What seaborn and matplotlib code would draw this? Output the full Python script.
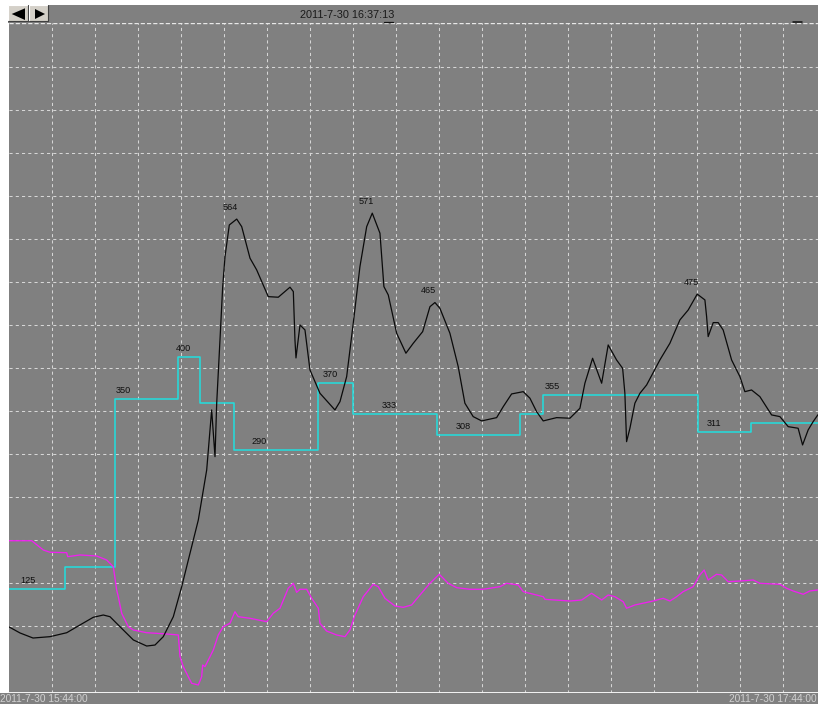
import matplotlib
matplotlib.use("Agg")
import matplotlib.pyplot as plt
from matplotlib.patches import Rectangle, Polygon
from matplotlib.lines import Line2D
import pandas as pd
import seaborn as sns

# ---- data (time in minutes after 15:44:00) ----
black_t = [0, 1.66, 3.57, 6.06, 8.52, 10.47, 12.42, 13.89, 14.87, 16.34,
           18.30, 20.26, 21.48, 22.70, 24.17, 25.40, 26.62, 27.84, 29.07, 29.80,
           30.29, 30.54, 31.02, 31.42, 31.76, 32.39, 33.48, 34.21, 35.43, 36.41,
           38.11, 39.58, 41.30, 41.79, 42.03, 42.18, 42.77, 43.50, 44.23, 45.70,
           47.90, 48.64, 49.62, 50.59, 51.57, 52.56, 53.38, 54.51, 55.09, 55.73,
           56.96, 58.32, 59.40, 60.78, 61.85, 62.58, 63.31, 64.78, 66.00, 66.98,
           68.20, 69.44, 71.64, 72.61, 73.84, 75.55, 76.53, 77.51, 78.48, 80.45,
           82.40, 83.87, 84.60, 85.73, 87.06, 88.02, 89.25, 90.14, 90.47, 90.72,
           91.21, 91.94, 92.68, 93.66, 95.61, 97.08, 98.55, 99.77, 101.09, 102.22,
           102.47, 102.70, 103.44, 104.17, 104.90, 106.14, 107.36, 108.09, 109.07, 110.29,
           112.01, 113.23, 114.45, 115.91, 116.56, 117.38, 118.11, 118.80, 120.0]
black_v = [80.5, 73.1, 67.1, 68.7, 73.4, 82.6, 91.7, 94.4, 92.4, 80.5,
           64.8, 57.6, 58.8, 68.7, 92.4, 128.0, 167.6, 207.1, 266.4, 337.6,
           282.2, 345.6, 420.6, 483.9, 519.5, 557.0, 564, 555.0, 517.6, 503.7,
           472.0, 471.3, 483.2, 478.0, 420.6, 399.3, 438.4, 432.5, 385.1, 357.4,
           337.6, 347.5, 377.1, 440.5, 507.6, 555.0, 571, 547.2, 483.9, 474.0,
           428.6, 404.9, 416.7, 430.5, 460.1, 465, 458.2, 428.6, 389.0, 345.6,
           329.7, 324.6, 328.5, 341.5, 356.6, 359.3, 351.5, 335.6, 324.6, 328.5,
           327.8, 339.6, 369.3, 398.9, 369.3, 414.7, 396.9, 387.0, 357.4, 300.0,
           315.9, 345.6, 357.4, 367.2, 396.9, 416.7, 444.4, 456.2, 475, 468.1,
           448.3, 424.6, 441.2, 441.2, 432.5, 396.9, 377.1, 359.3, 361.3, 353.4,
           331.7, 329.7, 317.8, 315.9, 296.1, 313.9, 323.7, 331.7, 338.0]

magenta_t = [0, 3.38, 5.08, 6.06, 8.52, 8.66, 10.47, 12.92, 14.39, 15.36,
             15.61, 15.85, 16.09, 16.59, 17.56, 18.30, 20.26, 23.19, 24.90, 25.15,
             25.63, 26.86, 27.84, 28.33, 28.48, 28.82, 30.04, 30.77, 31.50, 32.49,
             33.22, 33.71, 35.43, 36.64, 37.87, 38.84, 39.83, 41.04, 41.79, 42.28,
             42.77, 43.75, 44.49, 45.46, 45.70, 46.68, 48.15, 49.37, 50.10, 50.84,
             52.06, 53.52, 54.26, 55.24, 56.71, 57.93, 59.16, 60.38, 61.85, 63.21,
             64.53, 65.77, 67.72, 69.67, 72.12, 73.11, 74.81, 75.55, 78.48, 78.73,
             82.40, 84.12, 85.58, 87.06, 88.02, 89.00, 90.22, 90.72, 91.94, 94.63,
             96.09, 97.08, 98.06, 99.03, 100.50, 101.48, 102.11, 102.70, 103.93, 104.67,
             105.64, 107.36, 109.31, 110.29, 113.23, 114.21, 115.18, 116.65, 117.63, 118.80]
magenta_v = [182.5, 182.5, 171.5, 168.8, 168.3, 163.6, 165.6, 164.4, 159.6, 151.7,
             137.9, 124.1, 116.1, 96.4, 80.5, 76.6, 73.4, 71.9, 70.7, 45.0,
             33.1, 13.4, 11.4, 21.2, 35.1, 33.1, 52.9, 70.7, 80.5, 84.6,
             98.3, 92.4, 90.5, 88.5, 86.5, 96.4, 102.4, 126.1, 132.0, 121.3,
             124.9, 124.9, 114.2, 102.4, 84.6, 75.4, 70.7, 68.7, 76.6, 94.4,
             116.1, 130.8, 128.0, 114.2, 105.1, 103.5, 106.3, 118.1, 132.0, 142.7,
             132.0, 126.8, 124.9, 124.9, 128.0, 132.0, 130.0, 122.1, 116.1, 113.0,
             111.0, 112.2, 120.2, 112.2, 118.1, 116.1, 110.2, 102.4, 106.3, 111.0,
             114.2, 111.0, 116.1, 122.1, 128.0, 141.9, 147.8, 135.9, 142.7, 141.9,
             133.9, 134.7, 135.9, 132.0, 130.8, 126.1, 122.9, 119.0, 122.9, 124.1]

step_t = [0, 8.27, 15.61, 24.90, 28.09, 33.13, 45.37, 50.60, 62.94, 75.08,
          78.42, 101.27, 109.05, 120.0]
step_v = [125, 151, 350, 400, 346, 290, 370, 333, 308, 333,
          355, 311, 322, 322]

step_label_t = [2.9, 16.9, 25.7, 36.7, 47.2, 55.9, 66.7, 79.8, 103.5]
step_label_v = [125, 350, 400, 290, 370, 333, 308, 355, 311]

peak_t = [33.48, 53.38, 62.58, 101.09]
peak_v = [564, 571, 465, 475]

title_text = "2011-7-30 16:37:13"
start_label = "2011-7-30 15:44:00"
end_label = "2011-7-30 17:44:00"

# ---- style ----
sns.set_style("dark", rc={"axes.facecolor": "#808080"})
plt.rcParams["font.family"] = ["Liberation Sans", "DejaVu Sans"]

W, H = 818, 704
fig = plt.figure(figsize=(W / 100, H / 100), dpi=100, facecolor="white")


def fx(px):
    return px / W


def fy(py):
    return 1 - py / H


GRAY = "#808080"
GRID = "#d6d6d6"

# header and footer bands
fig.add_artist(Rectangle((fx(8), fy(22.7)), (W - 8) / W, (22.7 - 5) / H,
                         transform=fig.transFigure, facecolor=GRAY, edgecolor="none"))
fig.add_artist(Rectangle((0, 0), 1, (H - 692.7) / H,
                         transform=fig.transFigure, facecolor=GRAY, edgecolor="none"))

# plot area
left, right, top, bottom = 8.7, 826.0, 22.7, 692.7
ax = fig.add_axes([fx(left), fy(bottom), (right - left) / W, (bottom - top) / H])
ax.set_facecolor(GRAY)
x_min, x_max = 0, 120
y_min, y_max = 2.25, 796.9
ax.set_xlim(x_min, x_max)
ax.set_ylim(y_min, y_max)

# fixed pixel-pitch grid (43 px cells)
xgrid = [x_min + 43 * k / (right - left) * (x_max - x_min) for k in range(1, 20)]
ygrid = [y_max - (1.3 + 43 * k) / (bottom - top) * (y_max - y_min) for k in range(1, 15)]
ax.set_xticks(xgrid)
ax.set_yticks(ygrid)
ax.tick_params(length=0, labelbottom=False, labelleft=False)
ax.grid(True, color=GRID, lw=0.75, ls=(0, (3, 3)))
for s in ax.spines.values():
    s.set_visible(False)
ax.axhline(y_max, color="#e8e8e8", lw=1.0, ls=(0, (3, 1.5)), clip_on=False)
ax.axhline(y_min, color="#f4f4f4", lw=1.4, clip_on=False)

# series
sns.lineplot(x=step_t, y=step_v, drawstyle="steps-post", color="#22dede",
             lw=1.1, estimator=None, sort=False, ax=ax)
sns.lineplot(x=magenta_t, y=magenta_v, color="#f020f0", lw=0.95,
             estimator=None, sort=False, ax=ax)
sns.lineplot(x=black_t, y=black_v, color="#0a0a0a", lw=0.9,
             estimator=None, sort=False, ax=ax)

label_kw = dict(textcoords="offset pixels", ha="center", va="center",
                fontsize=6.6, color="#101010")
for t, v in zip(step_label_t, step_label_v):
    ax.annotate(str(v), (t, v), xytext=(0, 8.5), **label_kw)
for t, v in zip(peak_t, peak_v):
    ax.annotate(str(v), (t, v), xytext=(-6, 12), **label_kw)

# navigation buttons
btn_face = "#d4d0c8"
for x0 in (8.3, 28.6):
    fig.add_artist(Rectangle((fx(x0), fy(21)), 19.7 / W, 16 / H,
                             transform=fig.transFigure, facecolor=btn_face,
                             edgecolor="none"))
    fig.add_artist(Line2D([fx(x0), fx(x0), fx(x0 + 19.7)], [fy(21), fy(5), fy(5)],
                          transform=fig.transFigure, color="white", lw=0.8))
    fig.add_artist(Line2D([fx(x0), fx(x0 + 19.7), fx(x0 + 19.7)], [fy(21), fy(21), fy(5)],
                          transform=fig.transFigure, color="#404040", lw=0.8))
fig.add_artist(Polygon([(fx(11.7), fy(14)), (fx(25), fy(8.3)), (fx(25), fy(20))],
                       closed=True, transform=fig.transFigure, facecolor="black",
                       edgecolor="none"))
fig.add_artist(Polygon([(fx(45), fy(14)), (fx(35), fy(9)), (fx(35), fy(19))],
                       closed=True, transform=fig.transFigure, facecolor="black",
                       edgecolor="none"))

# header text, cursor marks and time range labels
fig.text(fx(347), fy(15.3), title_text, ha="center", va="center",
         fontsize=7.8, color="#1a1a1a")
fig.add_artist(Line2D([fx(384), fx(393)], [fy(22.3), fy(22.3)],
                      transform=fig.transFigure, color="#101010", lw=0.9))
fig.add_artist(Line2D([fx(793), fx(802)], [fy(22.3), fy(22.3)],
                      transform=fig.transFigure, color="#101010", lw=1.1))
fig.text(fx(0), fy(699.5), start_label, ha="left", va="center",
         fontsize=7.3, color="#d0d0d0")
fig.text(fx(817), fy(699.5), end_label, ha="right", va="center",
         fontsize=7.3, color="#d0d0d0")

fig.savefig("out.png", dpi=100, facecolor="white")
